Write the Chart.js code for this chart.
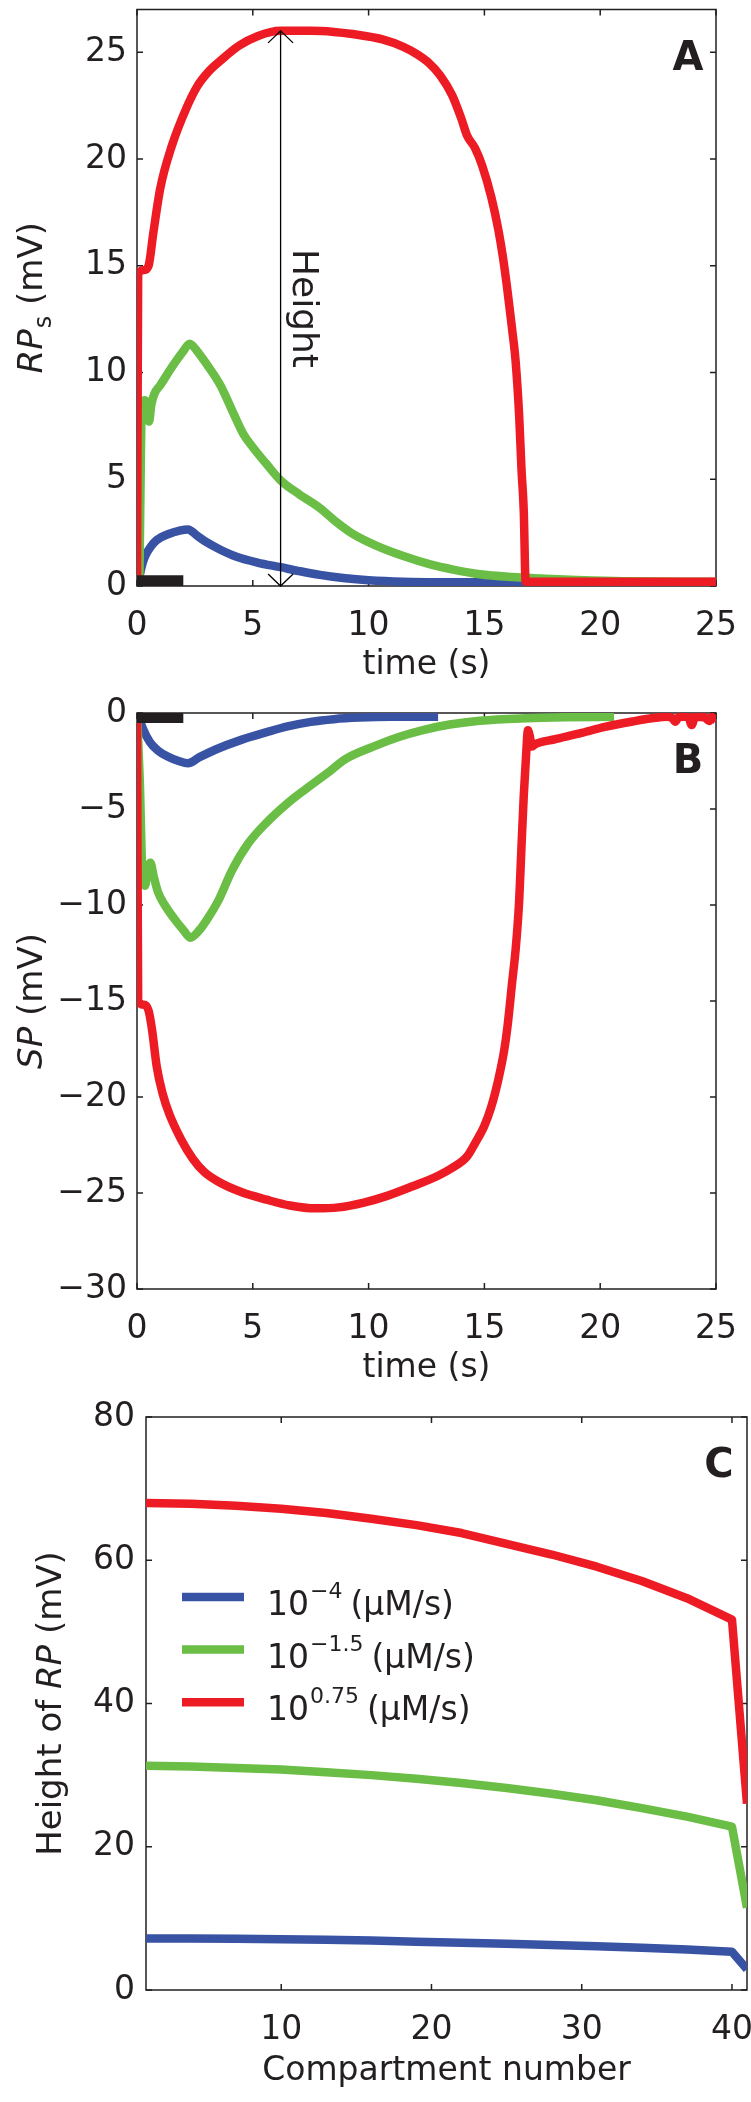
<!DOCTYPE html>
<html lang="en">
<head>
  <meta charset="UTF-8" />
  <title>RP / SP traces</title>
  <script src="https://cdn.jsdelivr.net/npm/chart.js"></script>
  <style>
    html, body { margin: 0; padding: 0; background: #fff; }
    body { width: 751px; height: 2102px; position: relative; overflow: hidden; }
    .panel { position: absolute; left: 0; width: 751px; }
    #panelA { top: 0; height: 700px; z-index: 3; }
    #panelB { top: 690px; height: 700px; z-index: 2; }
    #panelC { top: 1390px; height: 712px; z-index: 1; }
  </style>
</head>
<body>
  <div class="panel" id="panelA"><canvas id="chartA"></canvas></div>
  <div class="panel" id="panelB"><canvas id="chartB"></canvas></div>
  <div class="panel" id="panelC"><canvas id="chartC"></canvas></div>

  <script>
    // ---- data ----
    // panel A: RP_s (mV) against time (s), [t, v]
    const rpBlue = [[0.05,0],[0.12,0.5],[0.25,1.1],[0.4,1.5],[0.6,1.85],[0.85,2.15],[1.4,2.45],[1.8,2.58],[2.2,2.65],[2.6,2.35],[3.0,2.05],[3.6,1.7],[4.3,1.37],[5.2,1.1],[6.2,0.88],[7.0,0.7],[7.9,0.52],[9.0,0.36],[10.0,0.27],[11.5,0.2],[13,0.18],[15,0.18],[16.8,0.18]];
    const rpGreen = [[0.1,0],[0.22,8.6],[0.35,8.7],[0.45,8.0],[0.52,7.7],[0.62,8.5],[0.75,9.0],[1.0,9.4],[1.6,10.4],[2.0,11.0],[2.27,11.35],[2.6,11.0],[3.0,10.4],[3.6,9.4],[4.2,8.0],[4.6,7.1],[5.0,6.5],[5.6,5.7],[6.2,4.95],[7.0,4.3],[7.9,3.65],[8.6,3.0],[9.3,2.45],[10.3,1.9],[11.5,1.4],[12.7,1.0],[13.6,0.78],[14.8,0.55],[16.2,0.42],[17.5,0.35],[19.0,0.28],[21.0,0.22],[25,0.2]];
    const rpRed = [[0,0],[0.05,14.6],[0.3,14.8],[0.5,15.0],[0.7,16.5],[1.0,18.6],[1.5,20.6],[2.1,22.3],[2.6,23.4],[3.1,24.1],[3.6,24.6],[4.4,25.3],[5.2,25.75],[6.2,26.0],[7.5,26.0],[8.5,25.95],[9.3,25.85],[10.6,25.6],[11.5,25.25],[12.1,24.9],[12.6,24.5],[13.1,23.9],[13.6,23.0],[14.0,21.9],[14.25,21.1],[14.6,20.5],[14.9,19.7],[15.3,18.2],[15.6,16.7],[15.8,15.4],[16.0,13.8],[16.2,12.0],[16.35,10.5],[16.5,8.0],[16.6,5.5],[16.7,3.5],[16.78,0.2],[25,0.2]];
    const stimA = [[0,0.25],[2,0.25]];

    // panel B: SP (mV) against time (s)
    const spBlue = [[0,0],[0.1,-0.3],[0.25,-0.8],[0.55,-1.5],[0.9,-1.95],[1.3,-2.25],[1.8,-2.5],[2.2,-2.62],[2.7,-2.3],[3.4,-1.9],[4.5,-1.4],[5.6,-1.0],[6.5,-0.7],[7.5,-0.46],[8.5,-0.32],[9.6,-0.24],[11,-0.2],[13,-0.2]];
    const spGreen = [[0,0],[0.12,-3.5],[0.25,-8.8],[0.35,-9.0],[0.45,-8.2],[0.58,-7.8],[0.72,-8.5],[0.9,-9.3],[1.2,-10.0],[1.6,-10.7],[2.0,-11.3],[2.3,-11.7],[2.7,-11.3],[3.0,-10.8],[3.5,-9.8],[4.1,-8.2],[4.8,-6.8],[5.6,-5.7],[6.5,-4.7],[7.3,-3.95],[8.2,-3.15],[9.0,-2.4],[10.2,-1.75],[11.3,-1.25],[12.3,-0.9],[13.5,-0.6],[14.8,-0.4],[16.8,-0.27],[18.5,-0.22],[20.6,-0.2]];
    const spRed = [[0,0],[0.05,-15.0],[0.3,-15.2],[0.5,-15.5],[0.65,-16.5],[0.85,-18.4],[1.1,-19.8],[1.4,-20.9],[1.9,-22.2],[2.4,-23.2],[2.9,-23.9],[3.5,-24.4],[4.5,-24.95],[5.6,-25.35],[6.6,-25.65],[7.7,-25.8],[8.7,-25.75],[9.8,-25.5],[10.8,-25.15],[11.9,-24.65],[13.0,-24.1],[13.6,-23.7],[14.25,-23.1],[14.6,-22.4],[15.0,-21.5],[15.3,-20.5],[15.6,-19.1],[15.85,-17.6],[16.0,-16.3],[16.2,-14.0],[16.35,-12.3],[16.5,-9.8],[16.6,-7.0],[16.7,-4.3],[16.8,-2.2],[16.88,-0.9],[16.96,-1.2],[17.05,-1.75],[17.2,-1.62],[18.0,-1.38],[19.2,-1.04],[20.2,-0.72],[21.4,-0.44],[22.4,-0.25],[22.9,-0.2],[23.1,-0.25],[23.25,-0.45],[23.4,-0.2],[23.8,-0.2],[23.95,-0.62],[24.1,-0.2],[24.5,-0.22],[24.7,-0.42],[24.8,-0.2],[25,-0.4]];
    const stimB = [[0,-0.26],[2,-0.26]];

    // panel C: height of RP (mV) per compartment
    const compartments = [1, 4, 7, 10, 13, 16, 19, 22, 25, 28, 31, 34, 37, 40, 41];
    const heightBlue  = [7.2, 7.2, 7.15, 7.1, 7.0, 6.9, 6.75, 6.6, 6.45, 6.3, 6.1, 5.9, 5.65, 5.35, 2.9];
    const heightGreen = [31.3, 31.2, 31.0, 30.8, 30.4, 30.0, 29.5, 28.9, 28.2, 27.4, 26.5, 25.4, 24.2, 22.8, 11.5];
    const heightRed   = [68.0, 67.9, 67.6, 67.2, 66.6, 65.8, 64.9, 63.8, 62.3, 60.8, 59.1, 57.1, 54.7, 51.7, 26.0];
    const legendExp = ['\u22124', '\u22121.5', '0.75'];

    // ticks
    const timeTicks = [0, 5, 10, 15, 20, 25];
    const rpTicks = [0, 5, 10, 15, 20, 25];
    const spTicks = [-30, -25, -20, -15, -10, -5, 0];
    const compTicks = [10, 20, 30, 40];
    const heightTicks = [0, 20, 40, 60, 80];
    const heightArrow = { t: 6.2, from: 0, to: 26 };

    // ---- styling ----
    const FONT = 'DejaVu Sans';
    const INK = '#231f20';
    const BLUE = '#3953a4', GREEN = '#6abd45', RED = '#ed1c24';
    Chart.defaults.font.family = FONT;
    Chart.defaults.color = INK;

    const toXY = pairs => pairs.map(p => ({ x: p[0], y: p[1] }));
    const minus = v => (v < 0 ? '\u2212' + Math.abs(v) : String(v));

    function curve(data, color, mode) {
      return {
        data, borderColor: color, borderWidth: 8.5, pointRadius: 0, fill: false,
        clip: 0, borderJoinStyle: 'round',
        cubicInterpolationMode: mode || 'monotone', tension: 0
      };
    }
    function bar(data, w) {
      return { data: toXY(data), borderColor: INK, borderWidth: w, pointRadius: 0, clip: 0, borderCapStyle: 'butt' };
    }

    function xAxis(min, max, ticks, boxH, title, titlePad) {
      return {
        type: 'linear', min, max,
        afterBuildTicks: s => { s.ticks = ticks.map(v => ({ value: v })); },
        afterFit: s => { s.height = boxH; s.paddingLeft = 0; s.paddingRight = 0; },
        grid: { display: false, drawTicks: false },
        border: { display: false },
        ticks: { font: { size: 33 }, color: INK, padding: 21, maxRotation: 0, autoSkip: false, callback: minus },
        title: { display: true, text: title, font: { size: 33 }, color: INK, padding: { top: 0, bottom: titlePad } }
      };
    }
    function yAxis(min, max, ticks, boxW, pad) {
      return {
        type: 'linear', min, max,
        afterBuildTicks: s => { s.ticks = ticks.map(v => ({ value: v })); },
        afterFit: s => { s.width = boxW; s.paddingTop = 0; s.paddingBottom = 0; },
        grid: { display: false, drawTicks: false },
        border: { display: false },
        ticks: { font: { size: 33 }, color: INK, padding: pad, autoSkip: false, callback: minus }
      };
    }

    // box with inward ticks on all four sides
    const framePlugin = {
      id: 'frame',
      beforeDatasetsDraw(chart) {
        const { ctx, chartArea: a, scales: { x, y } } = chart;
        ctx.save();
        ctx.strokeStyle = INK;
        ctx.lineWidth = 1.5;
        ctx.strokeRect(a.left, a.top, a.right - a.left, a.bottom - a.top);
        ctx.beginPath();
        x.ticks.forEach(t => {
          const px = x.getPixelForValue(t.value);
          ctx.moveTo(px, a.bottom); ctx.lineTo(px, a.bottom - 6);
          ctx.moveTo(px, a.top); ctx.lineTo(px, a.top + 6);
        });
        y.ticks.forEach(t => {
          const py = y.getPixelForValue(t.value);
          ctx.moveTo(a.left, py); ctx.lineTo(a.left + 6, py);
          ctx.moveTo(a.right, py); ctx.lineTo(a.right - 6, py);
        });
        ctx.stroke();
        ctx.restore();
      }
    };

    // text made of runs (italic, sub/superscripts), optionally rotated
    function drawRuns(ctx, runs, x, y, rotation, centered) {
      ctx.save();
      ctx.translate(x, y);
      ctx.rotate(rotation);
      ctx.fillStyle = INK;
      ctx.textAlign = 'left';
      ctx.textBaseline = 'alphabetic';
      let total = 0;
      runs.forEach(r => { ctx.font = r.font; r.w = ctx.measureText(r.text).width + (r.gap || 0); total += r.w; });
      let cx = centered ? -total / 2 : 0;
      runs.forEach(r => { ctx.font = r.font; ctx.fillText(r.text, cx + (r.gap || 0), r.dy || 0); cx += r.w; });
      ctx.restore();
    }
    const F = (size, style) => (style ? style + ' ' : '') + size + 'px "' + FONT + '"';

    function panelLetter(chart, letter) {
      const { ctx, chartArea: a } = chart;
      ctx.save();
      ctx.font = 'bold 40px "' + FONT + '"';
      ctx.fillStyle = INK;
      ctx.textAlign = 'center';
      ctx.textBaseline = 'alphabetic';
      ctx.fillText(letter, a.right - 28, a.top + 60);
      ctx.restore();
    }

    const annotA = {
      id: 'annotA',
      afterDatasetsDraw(chart) {
        const { ctx, chartArea: a, scales: { x, y } } = chart;
        const ax = x.getPixelForValue(heightArrow.t);
        const y0 = y.getPixelForValue(heightArrow.from);
        const y1 = y.getPixelForValue(heightArrow.to);
        ctx.save();
        ctx.strokeStyle = '#000';
        ctx.lineWidth = 1.3;
        ctx.beginPath();
        ctx.moveTo(ax, y0); ctx.lineTo(ax, y1);
        ctx.moveTo(ax - 12.5, y1 + 12); ctx.lineTo(ax, y1); ctx.lineTo(ax + 12.5, y1 + 12);
        ctx.moveTo(ax - 12.5, y0 - 12); ctx.lineTo(ax, y0); ctx.lineTo(ax + 12.5, y0 - 12);
        ctx.stroke();
        ctx.restore();
        drawRuns(ctx, [{ text: 'Height', font: F(36) }], ax + 12, (y0 + y1) / 2, Math.PI / 2, true);
        drawRuns(ctx, [
          { text: 'RP', font: F(34, 'italic') },
          { text: 's', font: F(24), dy: 9, gap: 1 },
          { text: ' (mV)', font: F(34) }
        ], 42, (a.top + a.bottom) / 2, -Math.PI / 2, true);
        panelLetter(chart, 'A');
      }
    };

    const annotB = {
      id: 'annotB',
      afterDatasetsDraw(chart) {
        const { ctx, chartArea: a } = chart;
        drawRuns(ctx, [
          { text: 'SP', font: F(34, 'italic') },
          { text: ' (mV)', font: F(34) }
        ], 42, (a.top + a.bottom) / 2, -Math.PI / 2, true);
        panelLetter(chart, 'B');
      }
    };

    const annotC = {
      id: 'annotC',
      afterDatasetsDraw(chart) {
        const { ctx, chartArea: a } = chart;
        drawRuns(ctx, [
          { text: 'Height of ', font: F(34) },
          { text: 'RP', font: F(34, 'italic') },
          { text: ' (mV)', font: F(34) }
        ], 61, (a.top + a.bottom) / 2, -Math.PI / 2, true);
        panelLetter(chart, 'C');
        // legend
        [BLUE, GREEN, RED].forEach((c, i) => {
          const ly = a.top + 180 + 52.6 * i;
          ctx.save();
          ctx.strokeStyle = c;
          ctx.lineWidth = 8.5;
          ctx.beginPath();
          ctx.moveTo(a.left + 36, ly); ctx.lineTo(a.left + 98, ly);
          ctx.stroke();
          ctx.restore();
          drawRuns(ctx, [
            { text: '10', font: F(33) },
            { text: legendExp[i], font: F(22), dy: -17, gap: 1 },
            { text: '(\u03bcM/s)', font: F(33), gap: 8 }
          ], a.left + 121, ly + 18, 0, false);
        });
      }
    };

    const base = {
      responsive: true, maintainAspectRatio: false, animation: false,
      plugins: { legend: { display: false }, tooltip: { enabled: false } },
      elements: { line: { borderCapStyle: 'butt' } }
    };

    new Chart(document.getElementById('chartA'), {
      type: 'line',
      data: { datasets: [bar(stimA, 10.7), curve(toXY(rpRed), RED), curve(toXY(rpGreen), GREEN), curve(toXY(rpBlue), BLUE)] },
      options: Object.assign({}, base, {
        layout: { padding: { top: 9.5, right: 35, bottom: 0, left: 0 } },
        scales: { x: xAxis(0, 25, timeTicks, 114, 'time (s)', 15), y: yAxis(0, 27, rpTicks, 137, 10) }
      }),
      plugins: [framePlugin, annotA]
    });

    new Chart(document.getElementById('chartB'), {
      type: 'line',
      data: { datasets: [bar(stimB, 10), curve(toXY(spRed), RED), curve(toXY(spGreen), GREEN), curve(toXY(spBlue), BLUE)] },
      options: Object.assign({}, base, {
        layout: { padding: { top: 23, right: 35, bottom: 0, left: 0 } },
        scales: { x: xAxis(0, 25, timeTicks, 101, 'time (s)', 2), y: yAxis(-30, 0, spTicks, 137, 10) }
      }),
      plugins: [framePlugin, annotB]
    });

    const zipC = vals => compartments.map((c, i) => ({ x: c, y: vals[i] }));
    new Chart(document.getElementById('chartC'), {
      type: 'line',
      data: { datasets: [curve(zipC(heightRed), RED, 'default'), curve(zipC(heightGreen), GREEN, 'default'), curve(zipC(heightBlue), BLUE, 'default')] },
      options: Object.assign({}, base, {
        layout: { padding: { top: 27, right: 4, bottom: 0, left: 0 } },
        scales: { x: xAxis(1, 41, compTicks, 112, 'Compartment number', 11), y: yAxis(0, 80, heightTicks, 146, 11) }
      }),
      plugins: [framePlugin, annotC]
    });
  </script>
</body>
</html>
